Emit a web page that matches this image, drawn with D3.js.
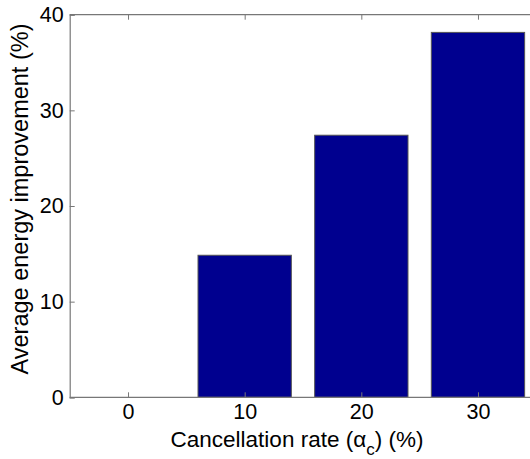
<!DOCTYPE html>
<head>
<style>
  body { margin: 0; background: #fff; }
  text { font-family: "Liberation Sans", Arial, sans-serif; fill: #000; }
</style>
</head>
<body>
<svg width="530" height="459"></svg>
<script src="https://d3js.org/d3.v7.min.js"></script>
<script>

var rates = [0, 10, 20, 30];                 // cancellation rate (%)
var improvement = [0, 14.85, 27.4, 38.15];   // average energy improvement (%)
var yTicks = [0, 10, 20, 30, 40];

var svg = d3.select("svg"),
    margin = {top: 14.7, left: 69.7},
    width = 466.6,          // plot runs past the right edge of the picture
    height = 382.6,
    g = svg.append("g").attr("transform", "translate(" + margin.left + "," + margin.top + ")");

var x = d3.scaleLinear().domain([-5, 35]).range([0, width]);
var y = d3.scaleLinear().domain([0, 40]).range([height, 0]);

var data = rates.map(function(r, i) { return {rate: r, value: improvement[i]}; });

// bars, width 0.8 of the spacing like matlab
g.selectAll(".bar")
  .data(data)
  .enter().append("rect")
    .attr("class", "bar")
    .attr("x", function(d) { return x(d.rate - 4); })
    .attr("width", x(8) - x(0))
    .attr("y", function(d) { return y(d.value); })
    .attr("height", function(d) { return height - y(d.value); })
    .attr("fill", "#00008f")
    .attr("stroke", "#555")
    .attr("stroke-width", 1)
    .style("display", function(d) { return d.value > 0 ? null : "none"; });

var axisColor = "#777";

// bottom axis
var xAxis = g.append("g")
    .attr("transform", "translate(0," + height + ")")
    .call(d3.axisBottom(x).tickValues(rates).tickSize(-5).tickPadding(6).tickFormat(d3.format("d")));
// top axis (ticks only)
var xTop = g.append("g")
    .call(d3.axisTop(x).tickValues(rates).tickSize(-5).tickFormat(""));
// left axis
var yAxis = g.append("g")
    .call(d3.axisLeft(y).tickValues(yTicks).tickSize(-5).tickPadding(6));

[xAxis, xTop, yAxis].forEach(function(a) {
  a.select(".domain").attr("stroke", axisColor).attr("stroke-width", 1.2);
  a.selectAll(".tick line").attr("stroke", axisColor);
  a.selectAll(".tick text").style("font-size", "21.5px").attr("fill", "#000");
});
xTop.select(".domain").attr("d", "M0,0H" + width);
xAxis.select(".domain").attr("d", "M0,0H" + width);

// axis titles
var xt = svg.append("text")
    .attr("x", 297)
    .attr("y", 447)
    .attr("text-anchor", "middle")
    .style("font-size", "22.5px");
xt.append("tspan").text("Cancellation rate (");
xt.append("tspan").text("\u03b1");
xt.append("tspan").attr("dy", 8).style("font-size", "17px").text("c");
xt.append("tspan").attr("dy", -8).text(") (%)");

svg.append("text")
    .attr("transform", "translate(28,199) rotate(-90)")
    .attr("text-anchor", "middle")
    .style("font-size", "23.5px")
    .text("Average energy improvement (%)");

</script>
</body>
